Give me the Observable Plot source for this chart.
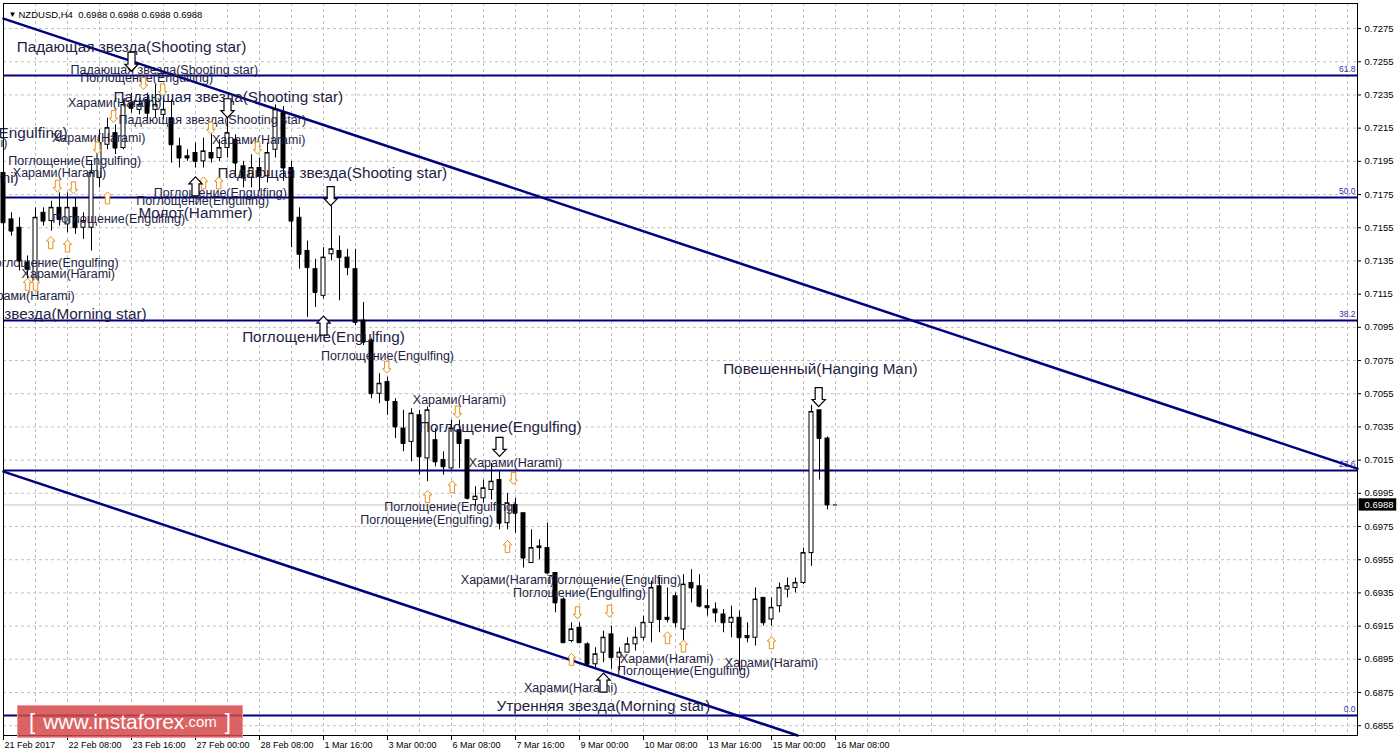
<!DOCTYPE html>
<html><head><meta charset="utf-8">
<script src="https://cdn.jsdelivr.net/npm/d3@7"></script>
<script src="https://cdn.jsdelivr.net/npm/@observablehq/plot@0.6"></script>
<style>
html,body{margin:0;padding:0;background:#fff;}
#wrap{position:relative;width:1398px;height:755px;overflow:hidden;}
#wrap svg{display:block;}
#wm{position:absolute;left:17px;top:705px;width:226px;height:33px;background:rgba(214,72,72,0.85);border:1px solid rgba(240,160,160,0.9);box-sizing:border-box;color:#fff;font-family:"Liberation Sans",Arial,sans-serif;display:flex;align-items:center;justify-content:center;white-space:nowrap;}
#wm .b{font-size:22px;margin:0 8px;}
#wm .w{font-size:21px;}
#wm .c{font-size:15px;}
</style></head><body><div id="wrap"><div id="wm"><span class="b">[</span><span class="w">www.instaforex</span><span class="c">.com</span><span class="b">]</span></div></div>
<script>
const symbol = "NZDUSD", timeframe = "H4";
const open = [
0.7188,0.7160,0.7155,0.7134,0.7123,0.7164,0.7159,0.7167,0.7157,0.7167,
0.7155,0.7155,0.7185,0.7205,0.7212,0.7203,0.7230,0.7226,0.7232,0.7226,
0.7223,0.7221,0.7204,0.7198,0.7200,0.7195,0.7200,0.7197,0.7203,0.7208,
0.7192,0.7185,0.7191,0.7186,0.7202,0.7224,0.7191,0.7161,0.7141,0.7130,
0.7114,0.7139,0.7141,0.7137,0.7130,0.7099,0.7087,0.7055,0.7062,0.7050,
0.7034,0.7026,0.7042,0.7016,0.7027,0.7015,0.7010,0.7033,0.7027,0.6991,
0.6992,0.6997,0.7003,0.6977,0.6988,0.6983,0.6953,0.6962,0.6962,0.6947,
0.6931,0.6906,0.6914,0.6904,0.6892,0.6899,0.6910,0.6896,0.6899,0.6904,
0.6908,0.6917,0.6939,0.6920,0.6933,0.6913,0.6941,0.6939,0.6927,0.6925,
0.6922,0.6917,0.6920,0.6909,0.6908,0.6932,0.6919,0.6927,0.6937,0.6938,
0.6941,0.6959,0.7045,0.7028,0.6988];
const high = [
0.7192,0.7164,0.7161,0.7138,0.7167,0.7167,0.7171,0.7176,0.7176,0.7173,
0.7164,0.7195,0.7214,0.7221,0.7217,0.7232,0.7236,0.7233,0.7236,0.7241,
0.7233,0.7232,0.7209,0.7202,0.7206,0.7209,0.7212,0.7208,0.7229,0.7211,
0.7195,0.7199,0.7197,0.7206,0.7229,0.7228,0.7195,0.7167,0.7147,0.7136,
0.7143,0.7168,0.7150,0.7142,0.7142,0.7110,0.7088,0.7067,0.7065,0.7052,
0.7045,0.7046,0.7045,0.7047,0.7034,0.7020,0.7039,0.7039,0.7027,0.6999,
0.7003,0.7013,0.7008,0.6995,0.6992,0.6983,0.6973,0.6967,0.6977,0.6947,
0.6932,0.6917,0.6917,0.6905,0.6902,0.6912,0.6915,0.6902,0.6908,0.6914,
0.6921,0.6942,0.6944,0.6938,0.6935,0.6946,0.6949,0.6946,0.6937,0.6929,
0.6925,0.6927,0.6924,0.6917,0.6938,0.6932,0.6932,0.6941,0.6944,0.6944,
0.6962,0.7048,0.7045,0.7029,0.6988];
const low = [
0.7152,0.7150,0.7129,0.7120,0.7120,0.7156,0.7153,0.7156,0.7152,0.7151,
0.7148,0.7141,0.7179,0.7202,0.7199,0.7202,0.7224,0.7223,0.7220,0.7221,
0.7220,0.7194,0.7191,0.7195,0.7191,0.7191,0.7194,0.7195,0.7197,0.7186,
0.7179,0.7179,0.7177,0.7182,0.7197,0.7183,0.7143,0.7130,0.7101,0.7107,
0.7112,0.7135,0.7111,0.7126,0.7096,0.7084,0.7052,0.7049,0.7042,0.7028,
0.7020,0.7014,0.7006,0.7002,0.7011,0.7006,0.7009,0.7010,0.6991,0.6987,
0.6989,0.6991,0.6973,0.6973,0.6971,0.6950,0.6953,0.6955,0.6946,0.6923,
0.6905,0.6905,0.6905,0.6891,0.6890,0.6893,0.6889,0.6888,0.6899,0.6900,
0.6906,0.6905,0.6911,0.6917,0.6914,0.6906,0.6929,0.6926,0.6921,0.6917,
0.6911,0.6908,0.6888,0.6905,0.6903,0.6915,0.6915,0.6923,0.6932,0.6935,
0.6940,0.6951,0.7003,0.6985,0.6988];
const close = [
0.7158,0.7153,0.7135,0.7130,0.7161,0.7159,0.7167,0.7160,0.7167,0.7155,
0.7159,0.7188,0.7206,0.7215,0.7203,0.7229,0.7227,0.7229,0.7224,0.7229,
0.7226,0.7205,0.7197,0.7197,0.7195,0.7201,0.7197,0.7203,0.7212,0.7194,
0.7185,0.7191,0.7186,0.7200,0.7226,0.7191,0.7159,0.7139,0.7131,0.7116,
0.7137,0.7142,0.7137,0.7131,0.7098,0.7086,0.7055,0.7061,0.7051,0.7035,
0.7025,0.7043,0.7017,0.7045,0.7014,0.7011,0.7034,0.7025,0.6992,0.6993,
0.6998,0.7002,0.6977,0.6989,0.6983,0.6956,0.6962,0.6963,0.6947,0.6929,
0.6905,0.6913,0.6905,0.6892,0.6898,0.6908,0.6896,0.6899,0.6904,0.6908,
0.6917,0.6938,0.6919,0.6919,0.6917,0.6940,0.6938,0.6927,0.6926,0.6923,
0.6917,0.6920,0.6908,0.6908,0.6931,0.6917,0.6926,0.6938,0.6939,0.6941,
0.6959,0.7044,0.7028,0.6988,0.6988];

const priceTicks = [0.6855,0.6875,0.6895,0.6915,0.6935,0.6955,0.6975,0.6995,0.7015,0.7035,0.7055,
  0.7075,0.7095,0.7115,0.7135,0.7155,0.7175,0.7195,0.7215,0.7235,0.7255,0.7275];
const dateBars = [0,8,16,24,32,40,48,56,64,72,80,88,96,104];
const dateLabels = ["21 Feb 2017","22 Feb 08:00","23 Feb 16:00","27 Feb 00:00","28 Feb 08:00","1 Mar 16:00",
  "3 Mar 00:00","6 Mar 08:00","7 Mar 16:00","9 Mar 00:00","10 Mar 08:00","13 Mar 16:00","15 Mar 00:00","16 Mar 08:00"];
const fibLabels = ["0.0","23.6","38.2","50.0","61.8"];
const fibPrices = [0.68611,0.70087,0.70991,0.71732,0.72467];
const upperChannel = [{i:0,p:0.72810},{i:169.25,p:0.70099}];
const lowerChannel = [{i:0,p:0.70081},{i:99.26,p:0.68491}];

const patText = [
 "Падающая звезда(Shooting star)","Падающая звезда(Shooting star)","Падающая звезда(Shooting star)","Молот(Hammer)",
 "Утренняя звезда(Morning star)","Поглощение(Engulfing)","Поглощение(Engulfing)","Поглощение(Engulfing)",
 "Повешенный(Hanging Man)","Утренняя звезда(Morning star)","Харами(Harami)",
 "Харами(Harami)","Падающая звезда(Shooting star)","Поглощение(Engulfing)","Харами(Harami)","Падающая звезда(Shooting star)",
 "Харами(Harami)","Харами(Harami)","Поглощение(Engulfing)","Харами(Harami)","Поглощение(Engulfing)","Поглощение(Engulfing)",
 "Поглощение(Engulfing)","Поглощение(Engulfing)","Харами(Harami)","Харами(Harami)","Поглощение(Engulfing)","Харами(Harami)",
 "Харами(Harami)","Поглощение(Engulfing)","Поглощение(Engulfing)","Харами(Harami)","Поглощение(Engulfing)","Поглощение(Engulfing)",
 "Харами(Harami)","Поглощение(Engulfing)","Харами(Harami)","Харами(Harami)"];
const patBar = [16.0,28.1,41.1,24.0,17.9,8.0,40.0,62.1,102.1,75.0,1.9,
 0.5,20.1,17.9,13.9,26.1,11.9,31.9,8.9,7.0,27.1,24.9,14.4,14.4,8.1,8.9,48.0,57.0,64.0,55.9,52.9,63.0,76.4,72.0,82.9,85.0,96.0,70.9];
const patPrice = [0.7264,0.7234,0.7188,0.7164,0.7103,0.7212,0.7089,0.7035,0.7070,0.6867,0.7185,
 0.7206,0.7250,0.7245,0.7230,0.7220,0.7209,0.7208,0.7195,0.7188,0.7176,0.7171,0.7160,0.7134,0.7127,0.7114,0.7078,0.7051,
 0.7013,0.6987,0.6979,0.6943,0.6943,0.6935,0.6895,0.6888,0.6893,0.6878];
const patLarge = [1,1,1,1,1,1,1,1,1,1,1, 0,0,0,0,0,0,0,0,0,0,0,0,0,0,0,0,0,0,0,0,0,0,0,0,0,0,0];
const patEnd = [0,0,0,0,1,1,0,0,0,0,1, 1,0,0,0,0,0,0,0,0,0,0,0,1,0,1,0,0,0,0,0,0,0,0,0,0,0,0];

const arrowBar = [17.5,19.9,13.75,25.9,11.75,6.75,8.75,31.75,47.9,56.75,63.75,71.75,75.75,
 13,25,26.9,5.9,8,3,4,53,56.1,63,71,83,85,96,
 16,28,40.9,62,101.9, 24,40,75];
const arrowPrice = [0.7242,0.7238,0.7222,0.7215,0.7203,0.7180,0.7179,0.7203,0.7071,0.7044,0.7004,0.6923,0.6924,
 0.7173,0.7182,0.7182,0.7146,0.7144,0.7121,0.7121,0.6993,0.6999,0.6963,0.6895,0.6908,0.6903,0.6905,
 0.7255,0.7227,0.7174,0.7023,0.7053, 0.7180,0.7096,0.6881];
const arrowDir = ["d","d","d","d","d","d","d","d","d","d","d","d","d",
 "u","u","u","u","u","u","u","u","u","u","u","u","u","u",
 "d","d","d","d","d","u","u","u"];
const arrowLarge = [0,0,0,0,0,0,0,0,0,0,0,0,0, 0,0,0,0,0,0,0,0,0,0,0,0,0,0, 1,1,1,1,1,1,1,1];

// ---- build tables ----
const bars = open.map((o, i) => ({i, o, h: high[i], l: low[i], c: close[i]}));
const last = bars[bars.length - 1];
const pats = patText.map((t, k) => ({t, i: patBar[k], p: patPrice[k], large: patLarge[k], end: patEnd[k]}));
const arrows = arrowBar.map((i, k) => ({i, p: arrowPrice[k], dir: arrowDir[k], large: arrowLarge[k]}));
const dates = dateBars.map((i, k) => ({i, t: dateLabels[k]}));
const fibs = fibPrices.map((p, k) => ({p, t: fibLabels[k]}));
const gridBars = d3.range(0, 169, 4);

const X0 = 0, X1 = 169.25, Y0 = 0.68491, Y1 = 0.72901;
const navy = "#000080", grid = "#c0c0c0", labelColor = "#1e1e44";
const font = "Liberation Sans, Arial, sans-serif";

function arrowSymbol(dir) {
  return {draw(ctx, size) {
    const r = Math.sqrt(size / Math.PI), a = 0.37 * r, b = 0.7 * r, h = 0.26 * r;
    const s = dir === "d" ? 1 : -1;
    ctx.moveTo(-a, -r * s); ctx.lineTo(a, -r * s); ctx.lineTo(a, h * s); ctx.lineTo(b, h * s);
    ctx.lineTo(0, r * s); ctx.lineTo(-b, h * s); ctx.lineTo(-a, h * s); ctx.closePath();
  }};
}

const textOpts = (large, anchor) => ({x: "i", y: "p", text: "t", fill: labelColor, fontFamily: font,
  fontSize: large ? 15.3 : 12.5, textAnchor: anchor});

const plot = Plot.plot({
  width: 1398, height: 755,
  marginLeft: 3, marginRight: 41, marginTop: 3, marginBottom: 20,
  x: {domain: [X0, X1], axis: null},
  y: {domain: [Y0, Y1], axis: null},
  style: {background: "#fff", fontFamily: font, overflow: "visible"},
  marks: [
    Plot.ruleX(gridBars, {x: d => d, stroke: grid, strokeDasharray: "3,3"}),
    Plot.ruleY(priceTicks, {y: d => d, stroke: grid, strokeDasharray: "3,3"}),
    Plot.ruleY([last.c], {y: d => d, stroke: "#c0c0c0"}),
    Plot.ruleY(fibs, {y: "p", stroke: navy, strokeWidth: 2}),
    Plot.line(upperChannel, {x: "i", y: "p", stroke: navy, strokeWidth: 2.5}),
    Plot.line(lowerChannel, {x: "i", y: "p", stroke: navy, strokeWidth: 2.5}),
    Plot.text(fibs, {x: X1, y: "p", text: "t", textAnchor: "end", dx: -2, dy: -6, fontSize: 8.5, fill: "#3333aa", fontFamily: font}),
    // candles
    Plot.ruleX(bars, {x: "i", y1: "l", y2: "h", stroke: "#000"}),
    Plot.rect(bars.filter(d => d.c >= d.o), {x1: d => d.i - 0.25, x2: d => d.i + 0.25, y1: "o", y2: "c", fill: "#fff", stroke: "#000"}),
    Plot.rect(bars.filter(d => d.c < d.o), {x1: d => d.i - 0.25, x2: d => d.i + 0.25, y1: "o", y2: "c", fill: "#000", stroke: "#000"}),
    Plot.ruleY(bars, {y: "c", x1: d => d.i - 0.25, x2: d => d.i + 0.25, stroke: "#000"}),
    // pattern labels
    Plot.text(pats.filter(d => d.large && !d.end), textOpts(true, "middle")),
    Plot.text(pats.filter(d => d.large && d.end), textOpts(true, "end")),
    Plot.text(pats.filter(d => !d.large && !d.end), textOpts(false, "middle")),
    Plot.text(pats.filter(d => !d.large && d.end), textOpts(false, "end")),
    // arrows
    Plot.dot(arrows.filter(d => !d.large && d.dir === "d"), {x: "i", y: "p", r: 6, symbol: arrowSymbol("d"), fill: "#fff", stroke: "#e8901a", strokeWidth: 1}),
    Plot.dot(arrows.filter(d => !d.large && d.dir === "u"), {x: "i", y: "p", r: 6, symbol: arrowSymbol("u"), fill: "#fff", stroke: "#e8901a", strokeWidth: 1}),
    Plot.dot(arrows.filter(d => d.large && d.dir === "d"), {x: "i", y: "p", r: 9.5, symbol: arrowSymbol("d"), fill: "#fff", stroke: "#000", strokeWidth: 1.2}),
    Plot.dot(arrows.filter(d => d.large && d.dir === "u"), {x: "i", y: "p", r: 9.5, symbol: arrowSymbol("u"), fill: "#fff", stroke: "#000", strokeWidth: 1.2}),
    // frame & axes
    Plot.frame({stroke: "#000"}),
    Plot.ruleY(priceTicks, {y: d => d, x1: X1, x2: X1 + 0.5, stroke: "#000"}),
    Plot.text(priceTicks, {x: X1, y: d => d, text: d => d.toFixed(4), textAnchor: "start", dx: 7, fontSize: 9.5, fill: "#000", fontFamily: font}),
    Plot.ruleX(dates, {x: "i", y1: Y0, y2: Y0 - 0.0003, stroke: "#000"}),
    Plot.text(dates, {x: "i", y: Y0, text: "t", textAnchor: "start", dx: 1, dy: 10, fontSize: 9, fill: "#000", fontFamily: font}),
    Plot.rect([last.c], {x1: X1 + 0.2, x2: X1 + 4.9, y1: d => d - 0.00037, y2: d => d + 0.00037, fill: "#000"}),
    Plot.text([last.c], {x: X1, y: d => d, text: d => d.toFixed(4), textAnchor: "start", dx: 7, fontSize: 9.5, fill: "#fff", fontFamily: font}),
    // header
    Plot.text(["▼"], {frameAnchor: "top-left", text: d => d, dx: 5, dy: 8, fontSize: 8, fill: "#000"}),
    Plot.text([`${symbol},${timeframe}  ${last.o.toFixed(4)} ${last.h.toFixed(4)} ${last.l.toFixed(4)} ${last.c.toFixed(4)}`],
      {frameAnchor: "top-left", text: d => d, textAnchor: "start", dx: 15, dy: 8, fontSize: 9.5, fill: "#000", fontFamily: font})
  ]
});
document.getElementById("wrap").prepend(plot);
</script></body></html>
